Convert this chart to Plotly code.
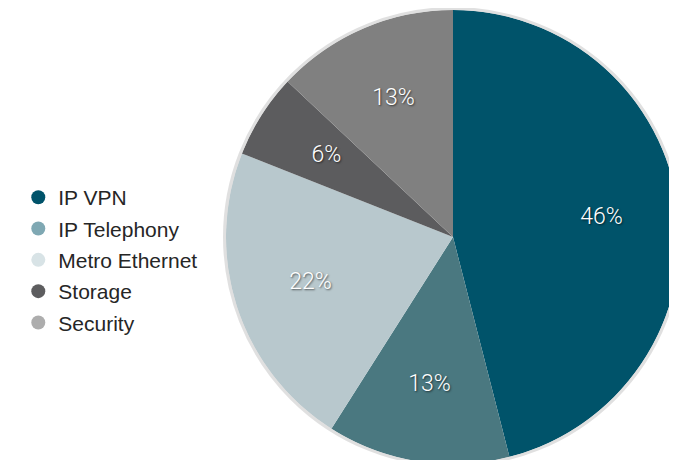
import plotly.graph_objects as go

categories = ["IP VPN", "IP Telephony", "Metro Ethernet", "Storage", "Security"]
values = [46, 13, 22, 6, 13]
slice_colors = ["#00536a", "#4a7880", "#b8c8cd", "#5c5c5e", "#808080"]
legend_colors = ["#00536a", "#7fa8b3", "#d8e3e6", "#5d5d5f", "#adadad"]

W, H = 677, 460

total = sum(values)
widths = [v / total * 360 for v in values]
mids = []
acc = 0
for w in widths:
    mids.append(acc + w / 2)
    acc += w
labels_txt = [f"{round(v / total * 100)}%" for v in values]

fig = go.Figure()

fig.add_trace(go.Barpolar(
    r=[1] * len(values),
    theta=mids,
    width=widths,
    marker=dict(color=slice_colors, line=dict(width=0)),
    customdata=categories,
    hovertemplate="%{customdata}<extra></extra>",
    showlegend=False,
))

fig.add_trace(go.Scatterpolar(
    r=[0.66] * len(values),
    theta=mids,
    mode="text",
    text=labels_txt,
    textfont=dict(family="Roboto, Liberation Sans, sans-serif", size=23, color="white",
                  weight=300, shadow="1px 1px 2px rgba(0,0,0,0.6)"),
    hoverinfo="skip",
    showlegend=False,
    cliponaxis=False,
))

for name, col in zip(categories, legend_colors):
    fig.add_trace(go.Scatter(
        x=[None], y=[None], mode="markers", name=name,
        legendgroup=name,
        marker=dict(color=col, size=14, symbol="circle"),
    ))

fig.update_layout(
    width=W, height=H,
    margin=dict(l=0, r=0, t=0, b=0),
    paper_bgcolor="white",
    plot_bgcolor="white",
    xaxis=dict(visible=False),
    yaxis=dict(visible=False),
    polar=dict(
        domain=dict(x=[0.322, 0.9926], y=[4 / 460, 458 / 460]),
        bgcolor="rgba(0,0,0,0)",
        radialaxis=dict(visible=False, range=[0, 1]),
        angularaxis=dict(visible=True, rotation=90, direction="clockwise",
                         showticklabels=False, ticks="", showgrid=False,
                         showline=True, linecolor="rgba(0,0,0,0.12)", linewidth=6,
                         layer="below traces"),
    ),
    legend=dict(
        x=0.0152, xanchor="left",
        y=0.452, yanchor="middle",
        font=dict(family="Liberation Sans, Arial, sans-serif", size=21, color="#262626"),
        tracegroupgap=1,
        bgcolor="rgba(0,0,0,0)",
        itemclick=False, itemdoubleclick=False,
    ),
)

fig.write_html("out.html")
